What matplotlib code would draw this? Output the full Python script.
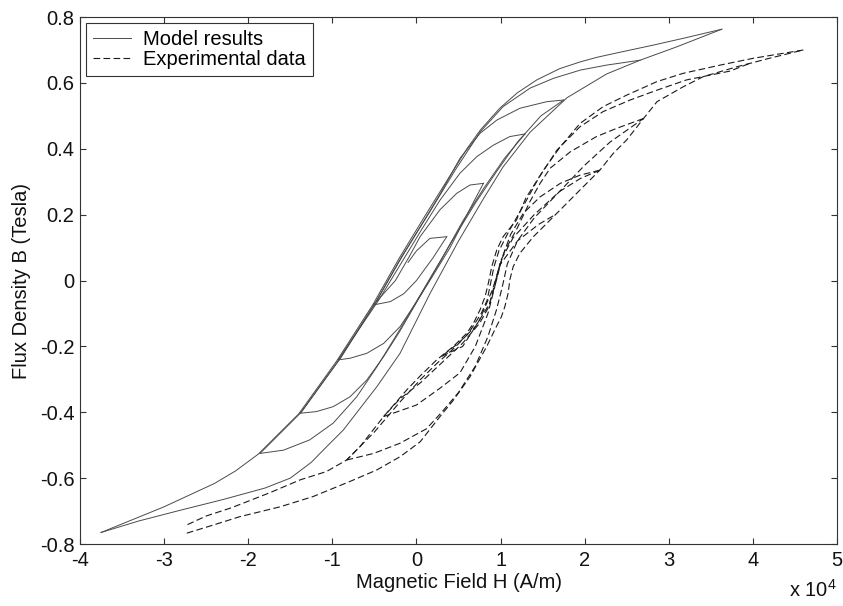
import matplotlib
matplotlib.use("Agg")
import matplotlib.pyplot as plt
from matplotlib.ticker import FuncFormatter

# H in units of 1e4 A/m, B in Tesla
# ---- model results (solid) ----
model_major_desc = [(3.63, 0.763), (3.2, 0.737), (2.82, 0.715), (2.4, 0.692), (2.15, 0.678),
                    (1.95, 0.664), (1.7, 0.643), (1.43, 0.609), (1.2, 0.57), (0.99, 0.523),
                    (0.76, 0.457), (0.6, 0.4), (0.44, 0.335), (0.12, 0.204), (-0.2, 0.07),
                    (-0.52, -0.074), (-0.95, -0.245), (-1.4, -0.405), (-1.88, -0.527),
                    (-2.15, -0.578), (-2.4, -0.616), (-3.0, -0.687), (-3.75, -0.765)]
model_major_asc = [(-3.75, -0.765), (-3.3, -0.73), (-2.8, -0.697), (-2.3, -0.665), (-1.8, -0.63),
                   (-1.5, -0.6), (-1.25, -0.552), (-1.05, -0.5), (-0.87, -0.454), (-0.47, -0.322),
                   (-0.195, -0.221), (0.16, -0.04), (0.5, 0.12), (0.8, 0.25), (1.03, 0.345),
                   (1.35, 0.45), (1.79, 0.555), (2.26, 0.627), (2.66, 0.669), (3.1, 0.71), (3.63, 0.763)]
model_desc_1 = [(2.66, 0.669), (2.26, 0.654), (1.95, 0.639), (1.63, 0.614), (1.35, 0.584),
                (1.03, 0.528), (0.76, 0.452), (0.46, 0.335), (0.15, 0.205), (-0.17, 0.075),
                (-0.49, -0.068), (-0.92, -0.24), (-1.37, -0.4), (-1.86, -0.525)]
model_asc_1 = [(-1.86, -0.525), (-1.58, -0.515), (-1.27, -0.484), (-0.99, -0.433), (-0.71, -0.353),
               (-0.47, -0.262), (-0.2, -0.15), (0.1, -0.02), (0.4, 0.11), (0.7, 0.235),
               (0.95, 0.33), (1.2, 0.42), (1.48, 0.5), (1.75, 0.548)]
model_desc_2 = [(1.75, 0.548), (1.55, 0.543), (1.23, 0.523), (0.955, 0.487), (0.756, 0.447),
                (0.52, 0.372), (0.28, 0.262), (0.05, 0.165), (-0.2, 0.06), (-0.48, -0.065),
                (-0.9, -0.235), (-1.38, -0.403)]
model_asc_2 = [(-1.38, -0.403), (-1.19, -0.398), (-0.99, -0.383), (-0.79, -0.353), (-0.59, -0.302),
               (-0.39, -0.231), (-0.2, -0.155), (0.05, -0.045), (0.3, 0.065), (0.55, 0.18),
               (0.8, 0.28), (1.05, 0.372), (1.29, 0.445)]
model_desc_3 = [(1.29, 0.445), (1.11, 0.437), (0.915, 0.411), (0.717, 0.376), (0.518, 0.326),
                (0.28, 0.244), (0.05, 0.15), (-0.2, 0.045), (-0.45, -0.06), (-0.93, -0.241)]
model_asc_3 = [(-0.93, -0.241), (-0.79, -0.236), (-0.59, -0.221), (-0.39, -0.191), (-0.195, -0.14),
               (0.0, -0.065), (0.16, 0.0), (0.4, 0.1), (0.6, 0.2), (0.796, 0.295)]
model_desc_4 = [(0.796, 0.295), (0.637, 0.29), (0.48, 0.265), (0.28, 0.215), (0.043, 0.133),
                (-0.08, 0.075), (-0.25, 0.0), (-0.51, -0.074)]
model_asc_4 = [(-0.51, -0.074), (-0.31, -0.064), (-0.15, -0.04), (0.0, 0.0), (0.2, 0.07), (0.36, 0.133)]
model_desc_5 = [(0.36, 0.133), (0.16, 0.128), (0.0, 0.09), (-0.1, 0.055)]

# ---- experimental data (dashed) ----
exp_major_desc = [(4.6, 0.70), (4.01, 0.675), (3.61, 0.654), (3.17, 0.629), (2.86, 0.604),
                  (2.5, 0.563), (2.22, 0.528), (1.945, 0.477), (1.71, 0.406), (1.51, 0.335),
                  (1.3, 0.25), (1.19, 0.184), (1.03, 0.133), (0.955, 0.093), (0.895, 0.042),
                  (0.855, -0.008), (0.816, -0.049), (0.756, -0.089), (0.677, -0.13), (0.598, -0.16),
                  (0.44, -0.2), (0.24, -0.241), (0.043, -0.29), (-0.115, -0.332), (-0.39, -0.413),
                  (-0.67, -0.504), (-0.83, -0.545), (-1.07, -0.58), (-1.38, -0.605), (-1.75, -0.645),
                  (-2.2, -0.69), (-2.5, -0.715), (-2.73, -0.742)]
exp_major_asc = [(-2.73, -0.767), (-2.41, -0.742), (-2.1, -0.717), (-1.62, -0.687), (-1.23, -0.656),
                 (-0.79, -0.61), (-0.47, -0.575), (-0.195, -0.535), (0.043, -0.49), (0.28, -0.413),
                 (0.44, -0.363), (0.637, -0.292), (0.836, -0.2), (0.95, -0.14), (1.01, -0.11),
                 (1.05, -0.08), (1.09, -0.039), (1.11, 0.002), (1.15, 0.042), (1.23, 0.083),
                 (1.39, 0.133), (1.63, 0.194), (1.945, 0.275), (2.18, 0.335), (2.34, 0.386),
                 (2.5, 0.427), (2.7, 0.492), (2.86, 0.543), (3.17, 0.588), (3.41, 0.619),
                 (3.81, 0.649), (4.2, 0.675), (4.6, 0.70)]
exp_desc_1 = [(3.95, 0.658), (3.73, 0.636), (3.21, 0.609), (2.86, 0.578), (2.54, 0.548),
              (2.22, 0.513), (1.945, 0.467), (1.67, 0.396), (1.45, 0.31), (1.3, 0.24),
              (1.1, 0.15), (0.98, 0.09), (0.92, 0.04), (0.88, -0.01), (0.84, -0.06),
              (0.77, -0.1), (0.62, -0.16), (0.45, -0.205), (0.25, -0.25), (0.05, -0.3),
              (-0.2, -0.37), (-0.5, -0.46), (-0.83, -0.545)]
exp_asc_1 = [(-0.83, -0.545), (-0.51, -0.525), (-0.195, -0.494), (0.12, -0.45), (0.3, -0.4),
             (0.5, -0.34), (0.7, -0.26), (0.85, -0.17), (0.95, -0.09), (1.02, -0.02),
             (1.08, 0.05), (1.2, 0.12), (1.4, 0.19), (1.7, 0.27), (2.0, 0.35), (2.3, 0.42),
             (2.7, 0.492)]
exp_desc_2 = [(2.7, 0.492), (2.38, 0.462), (2.14, 0.437), (1.83, 0.391), (1.59, 0.341),
              (1.47, 0.295), (1.35, 0.24), (1.2, 0.16), (1.05, 0.09), (0.97, 0.03),
              (0.92, -0.02), (0.86, -0.08), (0.75, -0.13), (0.55, -0.19), (0.3, -0.25),
              (0.05, -0.31), (-0.2, -0.36), (-0.39, -0.413)]
exp_asc_2 = [(-0.39, -0.413), (0.0, -0.378), (0.28, -0.327), (0.518, -0.28), (0.7, -0.2),
             (0.85, -0.1), (0.93, -0.02), (1.0, 0.06), (1.15, 0.13), (1.4, 0.2),
             (1.7, 0.27), (1.95, 0.31), (2.18, 0.335)]
exp_desc_3 = [(2.18, 0.335), (1.945, 0.32), (1.71, 0.295), (1.47, 0.254), (1.27, 0.204),
              (1.12, 0.14), (1.02, 0.07), (0.95, 0.0), (0.87, -0.07), (0.7, -0.14),
              (0.5, -0.19), (0.3, -0.23)]
exp_asc_3 = [(0.3, -0.23), (0.55, -0.2), (0.75, -0.12), (0.9, -0.03), (1.0, 0.05),
             (1.2, 0.12), (1.45, 0.17), (1.65, 0.2)]

model_branches = [model_major_desc, model_major_asc, model_desc_1, model_asc_1, model_desc_2,
                  model_asc_2, model_desc_3, model_asc_3, model_desc_4, model_asc_4, model_desc_5]
exp_branches = [exp_major_desc, exp_major_asc, exp_desc_1, exp_asc_1, exp_desc_2,
                exp_asc_2, exp_desc_3, exp_asc_3]

x_ticks = [-4, -3, -2, -1, 0, 1, 2, 3, 4, 5]
y_ticks = [-0.8, -0.6, -0.4, -0.2, 0, 0.2, 0.4, 0.6, 0.8]

plt.rcParams["font.family"] = ["Liberation Sans", "DejaVu Sans"]
plt.rcParams["mathtext.default"] = "regular"
plt.rcParams["axes.unicode_minus"] = False

fig = plt.figure(figsize=(8.43, 6.06), dpi=100)
ax = fig.add_axes([0.0949, 0.1023, 0.898, 0.8696])

model_color = "#4a4a4a"
exp_color = "#1a1a1a"

for i, branch in enumerate(model_branches):
    h, b = zip(*branch)
    ax.plot(h, b, color=model_color, linewidth=0.7, linestyle="-",
            label="Model results" if i == 0 else None)

for i, branch in enumerate(exp_branches):
    h, b = zip(*branch)
    ax.plot(h, b, color=exp_color, linewidth=0.8, linestyle=(0, (6, 3)),
            label="Experimental data" if i == 0 else None)

ax.set_xlim(-4, 5)
ax.set_ylim(-0.8, 0.8)
ax.set_xticks(x_ticks)
ax.set_yticks(y_ticks)
fmt = FuncFormatter(lambda v, pos: f"{v:g}")
ax.xaxis.set_major_formatter(fmt)
ax.yaxis.set_major_formatter(fmt)

for side in ["top", "bottom", "left", "right"]:
    ax.spines[side].set_color("#333333")
    ax.spines[side].set_linewidth(0.8)
ax.tick_params(direction="in", top=True, right=True, length=4.5, width=0.8,
               color="#333333", labelsize=14.5, labelcolor="#111111")
ax.tick_params(axis="x", pad=5)
ax.tick_params(axis="y", pad=4)

ax.set_xlabel("Magnetic Field H (A/m)", fontsize=14.5, color="#111111", labelpad=2)
ax.set_ylabel("Flux Density B (Tesla)", fontsize=14.5, color="#111111", labelpad=6)
ax.text(1.0, -0.1, "x 10$^4$", transform=ax.transAxes, ha="right", va="baseline",
        fontsize=14.5, color="#111111")

leg = ax.legend(loc="upper left", fontsize=14.5, frameon=True, fancybox=False,
                framealpha=1, edgecolor="#333333", borderpad=0.35, labelspacing=0.05,
                handlelength=1.9, handletextpad=0.6, borderaxespad=0.3)
leg.get_frame().set_linewidth(0.8)

fig.savefig("out.png", dpi=100)
